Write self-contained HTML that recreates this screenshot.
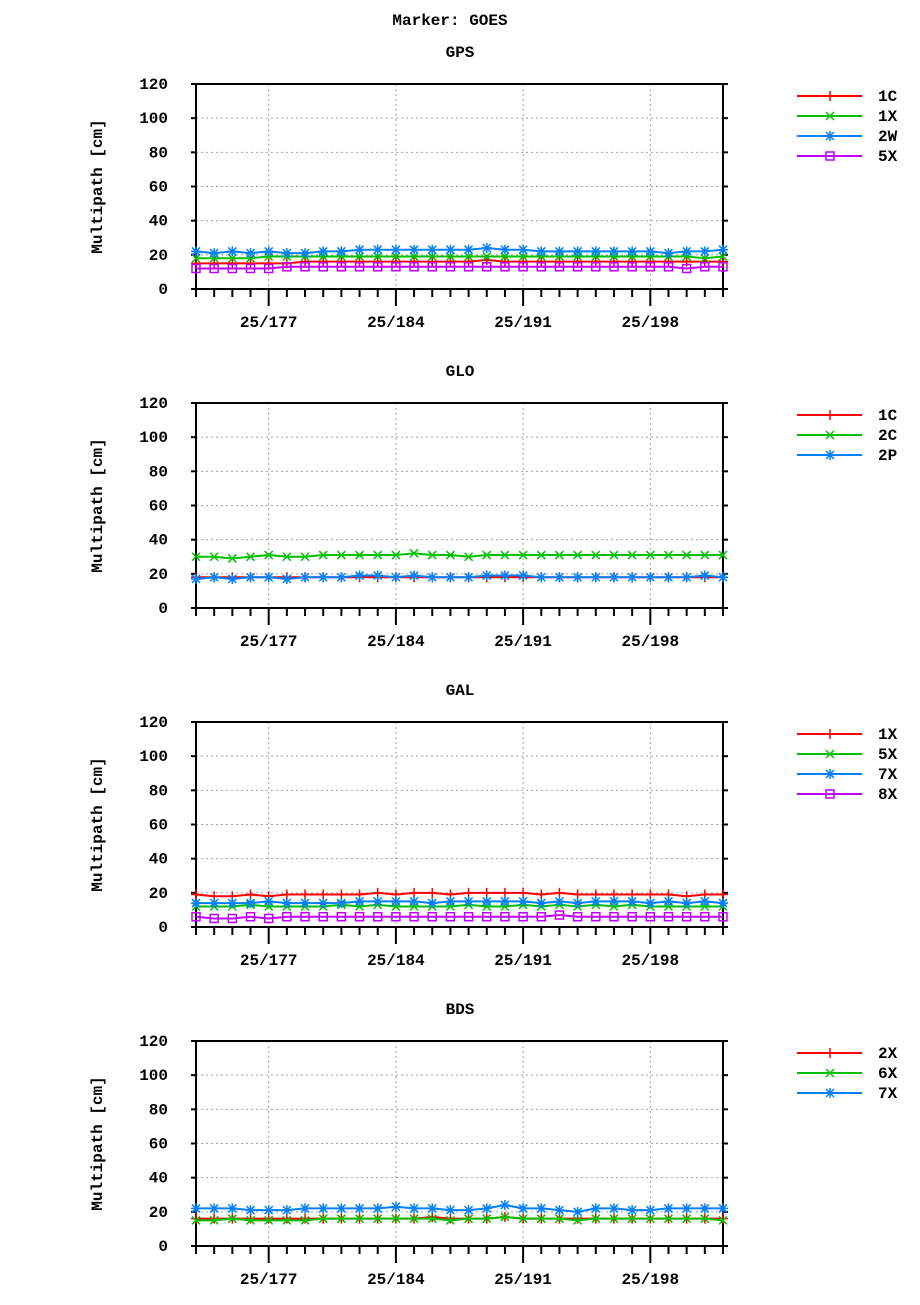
<!DOCTYPE html>
<html><head><meta charset="utf-8"><style>
body{margin:0;background:#fff;}
text{font-family:"Liberation Mono",monospace;font-weight:bold;fill:#000;}
</style></head><body>
<svg id="chart" width="920" height="1300" xmlns="http://www.w3.org/2000/svg">
<text x="450" y="25" font-size="16" text-anchor="middle">Marker: GOES</text>
</svg>
<script>
const days = [173,174,175,176,177,178,179,180,181,182,183,184,185,186,187,188,189,190,191,192,193,194,195,196,197,198,199,200,201,202];
const xTickDays = [177,184,191,198];
const xTickLabels = ["25/177","25/184","25/191","25/198"];
const yTicks = [0,20,40,60,80,100,120];
const panelTitles = ["GPS","GLO","GAL","BDS"];
const gpsNames = ["1C","1X","2W","5X"];
const gps1C = [15,15,15,15,15,15,16,16,16,16,16,16,16,16,16,16,17,16,16,16,16,16,16,16,16,16,16,16,16,16];
const gps1X = [18,18,18,18,19,19,19,19,19,19,19,19,19,19,19,19,19,19,19,19,19,19,19,19,19,19,19,19,18,19];
const gps2W = [22,21,22,21,22,21,21,22,22,23,23,23,23,23,23,23,24,23,23,22,22,22,22,22,22,22,21,22,22,23];
const gps5X = [12,12,12,12,12,13,13,13,13,13,13,13,13,13,13,13,13,13,13,13,13,13,13,13,13,13,13,12,13,13];
const gloNames = ["1C","2C","2P"];
const glo1C = [18,18,18,18,18,18,18,18,18,18,18,18,18,18,18,18,18,18,18,18,18,18,18,18,18,18,18,18,18,18];
const glo2C = [30,30,29,30,31,30,30,31,31,31,31,31,32,31,31,30,31,31,31,31,31,31,31,31,31,31,31,31,31,31];
const glo2P = [17,18,17,18,18,17,18,18,18,19,19,18,19,18,18,18,19,19,19,18,18,18,18,18,18,18,18,18,19,18];
const galNames = ["1X","5X","7X","8X"];
const gal1X = [19,18,18,19,18,19,19,19,19,19,20,19,20,20,19,20,20,20,20,19,20,19,19,19,19,19,19,18,19,19];
const gal5X = [12,12,12,13,12,12,12,12,13,12,13,12,12,12,12,13,12,12,13,12,13,12,13,12,13,12,12,12,12,12];
const gal7X = [14,14,14,14,15,14,14,14,14,15,15,15,15,14,15,15,15,15,15,14,15,14,15,15,15,14,15,14,15,14];
const gal8X = [6,5,5,6,5,6,6,6,6,6,6,6,6,6,6,6,6,6,6,6,7,6,6,6,6,6,6,6,6,6];
const bdsNames = ["2X","6X","7X"];
const bds2X = [16,16,16,16,16,16,16,16,16,16,16,16,16,17,16,16,16,17,16,16,16,16,16,16,16,16,16,16,16,16];
const bds6X = [15,15,16,15,15,15,15,16,16,16,16,16,16,16,15,16,16,17,16,16,16,15,16,16,16,16,16,16,16,15];
const bds7X = [22,22,22,21,21,21,22,22,22,22,22,23,22,22,21,21,22,24,22,22,21,20,22,22,21,21,22,22,22,22];

const panels = [
  {names:gpsNames, series:[gps1C,gps1X,gps2W,gps5X]},
  {names:gloNames, series:[glo1C,glo2C,glo2P]},
  {names:galNames, series:[gal1X,gal5X,gal7X,gal8X]},
  {names:bdsNames, series:[bds2X,bds6X,bds7X]}
];
const colors = ["#ff0000","#00c000","#0080ff","#c000ff"];
const NS = "http://www.w3.org/2000/svg";
const svg = document.getElementById("chart");
const X0=196, X1=723, H=205;
const tops=[84,403,722,1041];
function xs(d){return X0+(d-days[0])/(days[days.length-1]-days[0])*(X1-X0);}
function mk(tag,attrs,parent){const e=document.createElementNS(NS,tag);for(const k in attrs)e.setAttribute(k,attrs[k]);(parent||svg).appendChild(e);return e;}
function marker(g,type,x,y,c){
  const a={stroke:c,"stroke-width":1.5,fill:"none"};
  let p;
  if(type===0)p=`M${x-5},${y}H${x+5}M${x},${y-5}V${y+5}`;
  else if(type===1)p=`M${x-4},${y-4}L${x+4},${y+4}M${x-4},${y+4}L${x+4},${y-4}`;
  else if(type===2)p=`M${x-5},${y}H${x+5}M${x},${y-5}V${y+5}M${x-4},${y-4}L${x+4},${y+4}M${x-4},${y+4}L${x+4},${y-4}`;
  if(type<3){a.d=p;const e=mk("path",a,g);}
  else{a.x=x-4;a.y=y-4;a.width=8;a.height=8;const e=mk("rect",a,g);}
}
panels.forEach((pn,pi)=>{
  const T=tops[pi], B=T+H;
  const ys=v=>B-v/120*H;
  const g=mk("g",{});
  
  
  const t=mk("text",{x:460,y:T-27,"font-size":16,"text-anchor":"middle"},g);t.textContent=panelTitles[pi];
  
  const yl=mk("text",{x:102,y:(T+B)/2,"font-size":16,"text-anchor":"middle",transform:`rotate(-90 102 ${(T+B)/2})`},g);yl.textContent="Multipath [cm]";
  
  // grid
  yTicks.forEach(v=>{
    if(v>0&&v<120){const l=mk("line",{x1:X0,x2:X1,y1:ys(v),y2:ys(v),stroke:"#a0a0a0","stroke-dasharray":"2,3","stroke-width":1},g);}
    const tl=mk("text",{x:X0-28,y:ys(v)+5,"font-size":16,"text-anchor":"end"},g);tl.textContent=v;
    
    mk("line",{x1:X0-5,x2:X0,y1:ys(v),y2:ys(v),stroke:"#000","stroke-width":2},g);
    mk("line",{x1:X1,x2:X1+5,y1:ys(v),y2:ys(v),stroke:"#000","stroke-width":2},g);
  });
  xTickDays.forEach((d,i)=>{
    const l=mk("line",{x1:xs(d),x2:xs(d),y1:T,y2:B,stroke:"#a0a0a0","stroke-dasharray":"2,3","stroke-width":1},g);
    
    const tl=mk("text",{x:xs(d),y:B+38,"font-size":16,"text-anchor":"middle"},g);tl.textContent=xTickLabels[i];
    
  });
  days.forEach(d=>{
    const major=xTickDays.includes(d);
    mk("line",{x1:xs(d),x2:xs(d),y1:B,y2:B+(major?17:8),stroke:"#000","stroke-width":2},g);
  });
  const fr=mk("rect",{x:X0,y:T,width:X1-X0,height:H,fill:"none",stroke:"#000","stroke-width":2},g);
  
  pn.series.forEach((s,si)=>{
    const c=colors[si];
    const sg=mk("g",{},g);
    
    
    const pts=s.map((v,i)=>xs(days[i])+","+ys(v)).join(" ");
    mk("polyline",{points:pts,fill:"none",stroke:c,"stroke-width":2},sg);
    s.forEach((v,i)=>marker(sg,si,xs(days[i]),ys(v),c));
    const ly=T+12+si*20;
    const lg=mk("g",{},g);
    
    
    mk("line",{x1:797,x2:862,y1:ly,y2:ly,stroke:c,"stroke-width":2},lg);
    marker(lg,si,830,ly,c);
    const lt=mk("text",{x:878,y:ly+5,"font-size":16},lg);lt.textContent=pn.names[si];
  });
});
</script>
</body></html>
